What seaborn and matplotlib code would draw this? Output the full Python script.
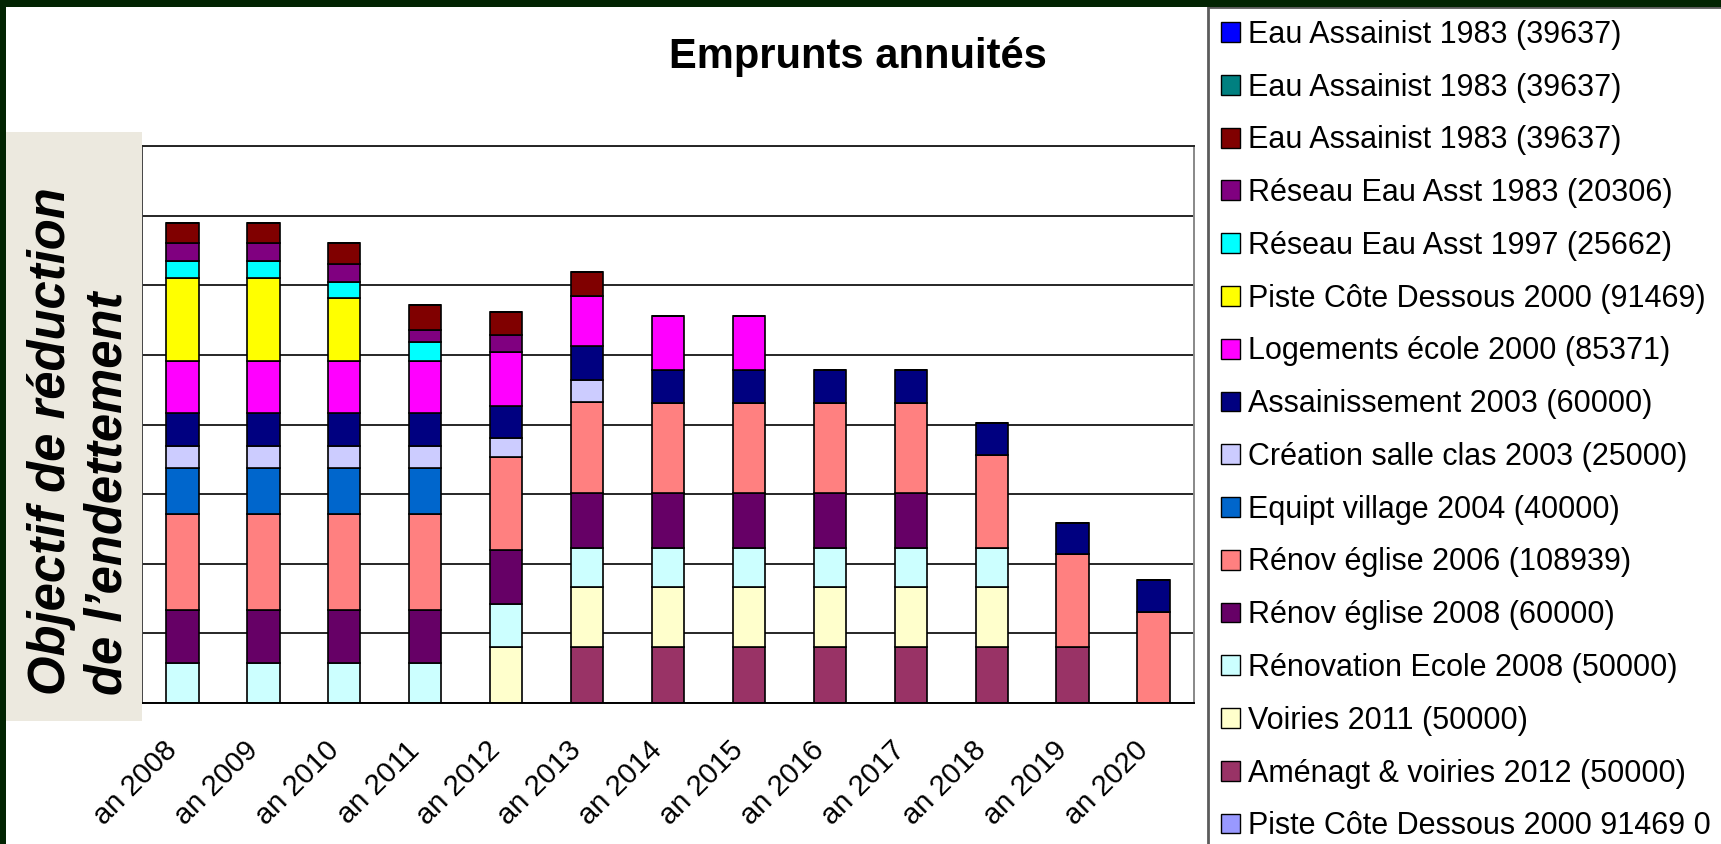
import numpy as np
import seaborn as sns
import matplotlib.pyplot as plt
from matplotlib.patches import Rectangle, Patch
from matplotlib.transforms import ScaledTranslation

# ---- data (annuities in euros) ----
years = ["an 2008", "an 2009", "an 2010", "an 2011", "an 2012", "an 2013", "an 2014",
         "an 2015", "an 2016", "an 2017", "an 2018", "an 2019", "an 2020"]

labels = [
    "Eau Assainist 1983 (39637)",
    "Eau Assainist 1983 (39637)",
    "Eau Assainist 1983 (39637)",
    "Réseau Eau Asst 1983 (20306)",
    "Réseau Eau Asst 1997 (25662)",
    "Piste Côte Dessous 2000 (91469)",
    "Logements école 2000 (85371)",
    "Assainissement 2003 (60000)",
    "Création salle clas 2003 (25000)",
    "Equipt village 2004 (40000)",
    "Rénov église 2006 (108939)",
    "Rénov église 2008 (60000)",
    "Rénovation Ecole 2008 (50000)",
    "Voiries 2011 (50000)",
    "Aménagt & voiries 2012 (50000)",
    "Piste Côte Dessous 2000 91469 0",
]

colors = ["#0000FF", "#008080", "#800000", "#800080", "#00FFFF", "#FFFF00",
          "#FF00FF", "#000080", "#CCCCFF", "#0066CC", "#FF8080", "#660066",
          "#CCFFFF", "#FFFFCC", "#993366", "#9999FF"]

eau_blue = [0, 0, 0, 0, 0, 0, 0, 0, 0, 0, 0, 0, 0]
eau_teal = [0, 0, 0, 0, 0, 0, 0, 0, 0, 0, 0, 0, 0]
eau_red = [3000, 3000, 3000, 3600, 3200, 3400, 0, 0, 0, 0, 0, 0, 0]
reseau_1983 = [2500, 2500, 2500, 1800, 2500, 0, 0, 0, 0, 0, 0, 0, 0]
reseau_1997 = [2400, 2400, 2300, 2700, 0, 0, 0, 0, 0, 0, 0, 0, 0]
piste = [12000, 12000, 9100, 0, 0, 0, 0, 0, 0, 0, 0, 0, 0]
logements = [7500, 7500, 7500, 7500, 7700, 7200, 7800, 7800, 0, 0, 0, 0, 0]
assainissement = [4700, 4700, 4700, 4700, 4600, 4900, 4700, 4700, 4700, 4700, 4600, 4500, 4600]
salle_clas = [3200, 3200, 3200, 3200, 2800, 3200, 0, 0, 0, 0, 0, 0, 0]
equipt_village = [6600, 6600, 6600, 6600, 0, 0, 0, 0, 0, 0, 0, 0, 0]
renov_2006 = [13700, 13700, 13700, 13700, 13300, 13100, 13000, 13000, 13000, 13000, 13300, 13400, 13000]
renov_2008 = [7600, 7600, 7600, 7600, 7800, 7900, 7900, 7900, 7900, 7900, 0, 0, 0]
renov_ecole = [5800, 5800, 5800, 5800, 6100, 5600, 5600, 5600, 5600, 5600, 5700, 0, 0]
voiries = [0, 0, 0, 0, 8100, 8600, 8600, 8600, 8600, 8600, 8600, 0, 0]
amenagt = [0, 0, 0, 0, 0, 8000, 8000, 8000, 8000, 8000, 8000, 8000, 0]
piste_0 = [0, 0, 0, 0, 0, 0, 0, 0, 0, 0, 0, 0, 0]

values = [eau_blue, eau_teal, eau_red, reseau_1983, reseau_1997, piste, logements,
          assainissement, salle_clas, equipt_village, renov_2006, renov_2008,
          renov_ecole, voiries, amenagt, piste_0]

# ---- figure ----
sns.set_style("white")
plt.rcParams["font.family"] = ["Liberation Sans", "DejaVu Sans"]
plt.rcParams["text.color"] = "black"
plt.rcParams["xtick.color"] = "black"

W, H = 1721, 844
fig = plt.figure(figsize=(W / 100, H / 100), dpi=100)
fig.patch.set_facecolor("white")

ax = fig.add_axes([142 / W, 1 - 703 / H, (1194 - 142) / W, (703 - 146) / H])

# stacked bars, last series at the bottom (Excel order)
bottom = np.zeros(len(years))
for vals, col in reversed(list(zip(values, colors))):
    sns.barplot(x=years, y=vals, order=years, color=col, saturation=1, width=0.4,
                bottom=bottom, edgecolor="black", linewidth=1.2, errorbar=None, ax=ax)
    bottom = bottom + np.array(vals)

ax.set_xlim(-0.5, len(years) - 0.5)
ax.set_ylim(0, 80000)
ax.set_xlabel("")
ax.set_ylabel("")

ax.set_yticks(np.arange(0, 80001, 10000))
ax.yaxis.grid(True, color="#262626", linewidth=1.4)
ax.set_axisbelow(True)
ax.tick_params(axis="y", length=0, labelleft=False)

# tick marks between categories, labels under each bar
ax.set_xticks(np.arange(-0.5, len(years), 1))
ax.set_xticklabels([])
ax.tick_params(axis="x", which="major", direction="out", length=7.2, width=1.3, color="black")
ax.set_xticks(np.arange(len(years)), minor=True)
ax.set_xticklabels(years, minor=True, rotation=45, ha="right", va="center",
                   rotation_mode="anchor", fontsize=21, color="black")
ax.tick_params(axis="x", which="minor", length=0, pad=31)
for lab in ax.get_xticklabels(minor=True):
    lab.set_transform(lab.get_transform() + ScaledTranslation(-0.1, 0, fig.dpi_scale_trans))

for side, col in [("left", "#444444"), ("right", "#888888"), ("top", "#262626"), ("bottom", "black")]:
    ax.spines[side].set_visible(True)
    ax.spines[side].set_color(col)
    ax.spines[side].set_linewidth(1.4)

# title
fig.text(858 / W, 1 - 68 / H, "Emprunts annuités", ha="center", va="baseline",
         fontsize=30, fontweight="bold", color="black")

# y label panel
fig.patches.append(Rectangle((6 / W, 1 - 721 / H), (142 - 6) / W, (721 - 132) / H,
                             transform=fig.transFigure, facecolor="#ECE9DF",
                             edgecolor="none", zorder=2))
fig.text(80 / W, 1 - 441 / H, "Objectif de réduction\nde l’endettement", rotation=90,
         ha="center", va="center", multialignment="left", fontsize=36.5,
         fontweight="bold", fontstyle="italic", color="black", zorder=3)

# legend
handles = [Patch(facecolor=c, edgecolor="black", linewidth=1.0) for c in colors]
leg = fig.legend(handles, labels, loc="upper left", bbox_to_anchor=(1208 / W, 1 - 7 / H),
                 bbox_transform=fig.transFigure, frameon=True, fancybox=False,
                 edgecolor="#333333", fontsize=22, labelspacing=0.745,
                 handlelength=0.62, handleheight=0.62, handletextpad=0.28,
                 borderpad=0.42, borderaxespad=0)
leg.get_frame().set_linewidth(2)
for t in leg.get_texts():
    t.set_color("black")

# dark green frame top and left
fig.patches.append(Rectangle((0, 0), 6 / W, 1, transform=fig.transFigure,
                             facecolor="#022402", edgecolor="none", zorder=10))
fig.patches.append(Rectangle((0, 1 - 7 / H), 1, 7 / H, transform=fig.transFigure,
                             facecolor="#022402", edgecolor="none", zorder=10))

fig.savefig("out.png", dpi=100)
